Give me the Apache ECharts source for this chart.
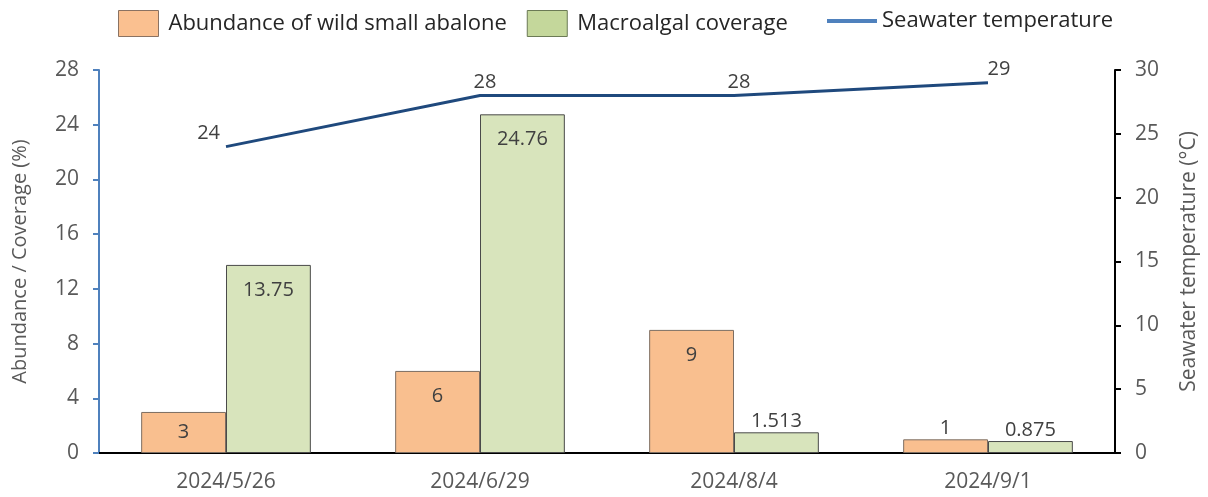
<!DOCTYPE html>
<html>
<head>
<meta charset="utf-8">
<script src="https://cdn.jsdelivr.net/npm/echarts@6/dist/echarts.min.js"></script>
<style>
  html, body { margin: 0; padding: 0; background: #fff; }
  #chart { width: 1208px; height: 497px; }
</style>
</head>
<body>
<div id="chart"></div>
<script>
// data
const dates = ['2024/5/26', '2024/6/29', '2024/8/4', '2024/9/1']
const abundance = [3, 6, 9, 1]
const coverage = [13.75, 24.76, 1.513, 0.875]
const temperature = [24, 28, 28, 29]

const FONT = 'Open Sans'
const textGray = '#595959'
const labelGray = '#404040'

// small bars: label above; short bars: centered; others inside the top
const barData = (vals) => vals.map(v => {
  let label = { position: 'insideTop', distance: 15 }
  if (v < 2) label = { position: 'top', distance: 1 }
  else if (v < 4) label = { position: 'inside' }
  return { value: v, label }
})

const chart = echarts.init(document.getElementById('chart'))

chart.setOption({
  animation: false,
  textStyle: { fontFamily: FONT },
  legend: [
    {
      left: 113,
      top: 5,
      itemWidth: 40,
      itemHeight: 26,
      itemGap: 20,
      textStyle: { fontSize: 22, color: '#262626', fontFamily: FONT, padding: [0, 0, 0, 5] },
      data: [
        { name: 'Abundance of wild small abalone', icon: 'rect',
          itemStyle: { color: '#FAC090', borderColor: '#8a7262', borderWidth: 1 } },
        { name: 'Macroalgal coverage', icon: 'rect',
          itemStyle: { color: '#C4D79B', borderColor: '#6b7a55', borderWidth: 1 } }
      ]
    },
    {
      left: 822,
      top: 5,
      itemWidth: 50,
      itemHeight: 4,
      textStyle: { fontSize: 22, color: '#262626', fontFamily: FONT },
      data: [
        { name: 'Seawater temperature', icon: 'rect', itemStyle: { color: '#4F81BD' } }
      ]
    }
  ],
  grid: { left: 99, right: 91, top: 70, bottom: 44 },
  xAxis: {
    type: 'category',
    data: dates,
    axisLine: { lineStyle: { color: '#000', width: 2 } },
    axisTick: { length: 7, lineStyle: { color: '#000', width: 2 } },
    axisLabel: { color: textGray, fontSize: 21, margin: 19, fontFamily: FONT }
  },
  yAxis: [
    {
      type: 'value',
      min: 0, max: 28, interval: 4,
      name: 'Abundance / Coverage (%)',
      nameLocation: 'middle',
      nameGap: 69,
      nameRotate: 90,
      nameTextStyle: { color: textGray, fontSize: 20, fontFamily: FONT },
      axisLine: { show: true, lineStyle: { color: '#4F81BD', width: 2 } },
      axisTick: { show: true, length: 6, lineStyle: { color: '#4F81BD', width: 2 } },
      axisLabel: { color: textGray, fontSize: 21, margin: 20, fontFamily: FONT },
      splitLine: { show: false }
    },
    {
      type: 'value',
      min: 0, max: 30, interval: 5,
      position: 'right',
      name: 'Seawater temperature (°C)',
      nameLocation: 'middle',
      nameGap: 64,
      nameRotate: 90,
      nameTextStyle: { color: textGray, fontSize: 21, fontFamily: FONT },
      axisLine: { show: true, lineStyle: { color: '#000', width: 2 } },
      axisTick: { show: true, length: 6, lineStyle: { color: '#000', width: 2 } },
      axisLabel: { color: textGray, fontSize: 21, margin: 20, fontFamily: FONT },
      splitLine: { show: false }
    }
  ],
  series: [
    {
      name: 'Abundance of wild small abalone',
      type: 'bar',
      data: barData(abundance),
      barWidth: '33.4%',
      barGap: '0%',
      itemStyle: { color: '#F9BF8F', borderColor: '#7d6e62', borderWidth: 1 },
      label: { show: true, color: labelGray, fontSize: 20, fontFamily: FONT }
    },
    {
      name: 'Macroalgal coverage',
      type: 'bar',
      data: barData(coverage),
      barWidth: '33.4%',
      barGap: '0%',
      itemStyle: { color: '#D8E4BC', borderColor: '#4a4a4a', borderWidth: 1 },
      label: { show: true, color: labelGray, fontSize: 20, fontFamily: FONT }
    },
    {
      name: 'Seawater temperature',
      type: 'line',
      yAxisIndex: 1,
      data: temperature.map((v, i) => ({
        value: v,
        label: i === 0
          ? { position: 'left', distance: 6, offset: [0, -13] }
          : { position: 'top', distance: 3, offset: [i === 3 ? 11 : 5, 0] }
      })),
      symbol: 'circle',
      symbolSize: 0,
      showSymbol: true,
      lineStyle: { color: '#1F497D', width: 3 },
      itemStyle: { color: '#1F497D' },
      label: { show: true, color: labelGray, fontSize: 20, fontFamily: FONT }
    }
  ]
})
</script>
</body>
</html>
